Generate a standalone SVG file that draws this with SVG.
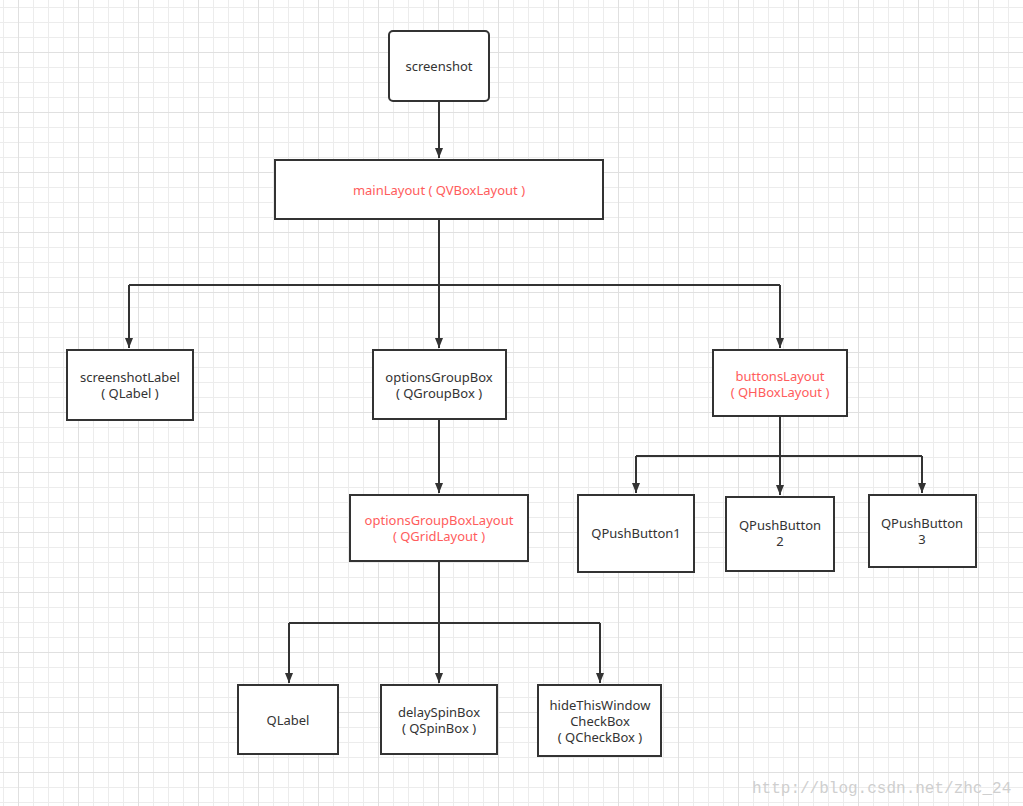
<svg xmlns="http://www.w3.org/2000/svg" width="1023" height="806" viewBox="0 0 1023 806">
<defs>
<pattern id="minor" x="3" y="7" width="15" height="15" patternUnits="userSpaceOnUse">
<path d="M0.5 0V15M0 0.5H15" stroke="#ececec" stroke-width="1" fill="none"/>
</pattern>
<pattern id="major" x="18" y="52" width="60" height="60" patternUnits="userSpaceOnUse">
<path d="M0.5 0V60M0 0.5H60" stroke="#e0e0e0" stroke-width="1" fill="none"/>
</pattern>
<marker id="arr" viewBox="0 0 10 10" refX="10" refY="5" markerWidth="10" markerHeight="10" markerUnits="userSpaceOnUse" orient="auto">
<path d="M0,1 L10,5 L0,9 Z" fill="#333"/>
</marker>
<style>
.box{fill:#fff;stroke:#333;stroke-width:2}
.t{font-family:"Noto Sans","Open Sans",sans-serif;font-size:13px;fill:#333;text-anchor:middle}
.r{fill:#ff5c5c}
.c{fill:none;stroke:#333;stroke-width:2}
.wm{font-family:"Liberation Mono",monospace;font-size:16px;fill:#cfcfcf}
</style>
</defs>
<rect width="1023" height="806" fill="#fff"/>
<rect width="1023" height="806" fill="url(#minor)"/>
<rect width="1023" height="806" fill="url(#major)"/>
<g id="connectors">
<path class="c" d="M439 101V158" marker-end="url(#arr)"/>
<path class="c" d="M439 219V285M129 285H780M129 285V348" marker-end="url(#arr)"/>
<path class="c" d="M439 285V348" marker-end="url(#arr)"/>
<path class="c" d="M780 285V348" marker-end="url(#arr)"/>
<path class="c" d="M439 419V493" marker-end="url(#arr)"/>
<path class="c" d="M780 416V456M636 456H922M636 456V493" marker-end="url(#arr)"/>
<path class="c" d="M780 456V495" marker-end="url(#arr)"/>
<path class="c" d="M922 456V493" marker-end="url(#arr)"/>
<path class="c" d="M439 561V623M289 623H600M289 623V683" marker-end="url(#arr)"/>
<path class="c" d="M439 623V683" marker-end="url(#arr)"/>
<path class="c" d="M600 623V683" marker-end="url(#arr)"/>
</g>
<g id="screenshot"><rect class="box" x="389" y="31" width="100" height="70" rx="4"/><text class="t" x="439" y="71">screenshot</text></g>
<g id="mainLayout"><rect class="box" x="275" y="160" width="328" height="59"/><text class="t r" x="439" y="195">mainLayout ( QVBoxLayout )</text></g>
<g id="screenshotLabel"><rect class="box" x="67" y="350" width="126" height="70"/><text class="t" x="130" y="382">screenshotLabel</text><text class="t" x="130" y="398">( QLabel )</text></g>
<g id="optionsGroupBox"><rect class="box" x="373" y="350" width="133" height="69"/><text class="t" x="439" y="382">optionsGroupBox</text><text class="t" x="439" y="398">( QGroupBox )</text></g>
<g id="buttonsLayout"><rect class="box" x="713" y="350" width="134" height="66"/><text class="t r" x="780" y="381">buttonsLayout</text><text class="t r" x="780" y="397">( QHBoxLayout )</text></g>
<g id="optionsGroupBoxLayout"><rect class="box" x="350" y="495" width="178" height="66"/><text class="t r" x="439" y="525">optionsGroupBoxLayout</text><text class="t r" x="439" y="541">( QGridLayout )</text></g>
<g id="QPushButton1"><rect class="box" x="578" y="495" width="116" height="77"/><text class="t" x="636" y="538">QPushButton1</text></g>
<g id="QPushButton2"><rect class="box" x="726" y="497" width="108" height="74"/><text class="t" x="780" y="530">QPushButton</text><text class="t" x="780" y="546">2</text></g>
<g id="QPushButton3"><rect class="box" x="869" y="495" width="107" height="72"/><text class="t" x="922" y="528">QPushButton</text><text class="t" x="922" y="544">3</text></g>
<g id="QLabel"><rect class="box" x="238" y="685" width="100" height="69"/><text class="t" x="288" y="725">QLabel</text></g>
<g id="delaySpinBox"><rect class="box" x="381" y="685" width="116" height="69"/><text class="t" x="439" y="717">delaySpinBox</text><text class="t" x="439" y="733">( QSpinBox )</text></g>
<g id="hideThisWindowCheckBox"><rect class="box" x="538" y="685" width="123" height="71"/><text class="t" x="600" y="710">hideThisWindow</text><text class="t" x="600" y="726">CheckBox</text><text class="t" x="600" y="742">( QCheckBox )</text></g>
<text class="wm" x="752" y="793">http://blog.csdn.net/zhc_24</text>
</svg>
